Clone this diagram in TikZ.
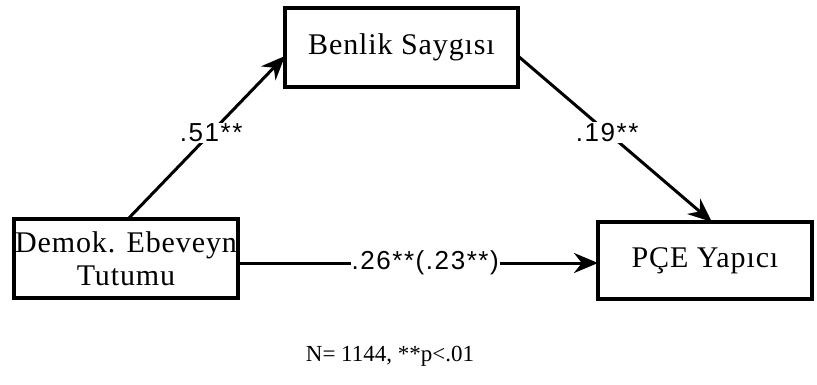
\documentclass[tikz,border=0pt]{standalone}
\usepackage{fontspec}
\setmainfont{Liberation Serif}
\newfontfamily\boxfont{Liberation Serif}[LetterSpace=3]
\newfontfamily\lblfont{Liberation Sans}[LetterSpace=6]
\usetikzlibrary{arrows.meta}
\begin{document}
\begin{tikzpicture}[x=1pt,y=-1pt,
  box/.style={draw=black,line width=3.5pt,fill=white,inner sep=0pt,font=\boxfont\fontsize{30}{33}\selectfont,align=center},
  conn/.style={line width=3pt,-{Stealth[length=24pt,width=20pt]}},
  lbl/.style={font=\lblfont\fontsize{26}{28}\selectfont,fill=white,inner sep=1pt}]
\useasboundingbox (0,0) rectangle (817,385);
\node[box,minimum width=224pt,minimum height=79pt] (dem) at (126,258.5) {Demok. Ebeveyn\\Tutumu};
\node[box,minimum width=233pt,minimum height=79pt] (ben) at (401.5,47.5) {Benlik Saygısı};
\node[box,minimum width=214pt,minimum height=77pt] (pce) at (705,260.5) {PÇE Yapıcı};
\coordinate (a1) at (128,219);
\coordinate (b1) at (285,56);
\coordinate (a2) at (518,56);
\coordinate (b2) at (712,222);
\coordinate (a3) at (238,263);
\coordinate (b3) at (598,263);
\draw[conn] (a1) -- node[lbl,pos=0.53] {.51**} (b1);
\draw[conn] (a2) -- node[lbl,pos=0.46] {.19**} (b2);
\draw[conn] (a3) -- node[lbl,pos=0.52] {.26**(.23**)} (b3);
\node[font=\fontsize{23}{26}\selectfont] (note) at (390,356) {N= 1144, **p<.01};
\end{tikzpicture}
\end{document}
